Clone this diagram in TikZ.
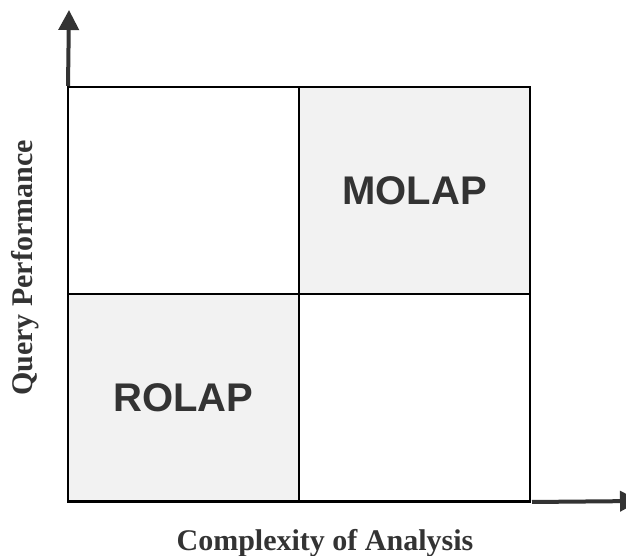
\documentclass[tikz,border=0pt]{standalone}
\usepackage{fontspec}
\setmainfont{Liberation Serif}
\setsansfont{Liberation Sans}
\usepackage{tikz}
\usetikzlibrary{arrows.meta,positioning}
\definecolor{inkgray}{HTML}{333333}
\definecolor{cellgray}{HTML}{F2F2F2}

\begin{document}
\begin{tikzpicture}[x=1pt,y=1pt,
    cell/.style={draw=black,line width=2pt,minimum width=231pt,minimum height=207pt,
      inner sep=0pt,text=inkgray,font=\sffamily\bfseries\fontsize{40}{48}\selectfont},
    axis/.style={draw=inkgray,line width=4pt,-{Triangle[length=20pt,width=20pt]}},
    lab/.style={text=inkgray,inner sep=0pt,font=\bfseries\fontsize{30}{36}\selectfont}]
  \useasboundingbox (0,0) rectangle (626,556);
  \clip (0,0) rectangle (626,556);
  % the four quadrants
  \foreach \n/\cx/\cy/\fc/\txt in {tl/183.5/365.5/white/{},
      tr/414.5/365.5/cellgray/{MOLAP},
      bl/183.5/158.5/cellgray/{ROLAP},
      br/414.5/158.5/white/{}}{
    \node[cell,fill=\fc] (\n) at (\cx,\cy) {\txt};
  }
  \draw[black,line width=3pt] (bl.south west) -- (br.south east);
  % axes
  \coordinate (ytip) at (69,546);
  \coordinate (xtip) at (640,55);
  \draw[axis] ([xshift=1pt]tl.north west) -- (ytip);
  \draw[axis] ([xshift=1pt]br.south east) -- (xtip);
  \node[lab,rotate=90,anchor=base] (ylab) at (32,288) {Query Performance};
  \node[lab,anchor=base] (xlab) at (325,5) {Complexity of Analysis};
\end{tikzpicture}
\end{document}
